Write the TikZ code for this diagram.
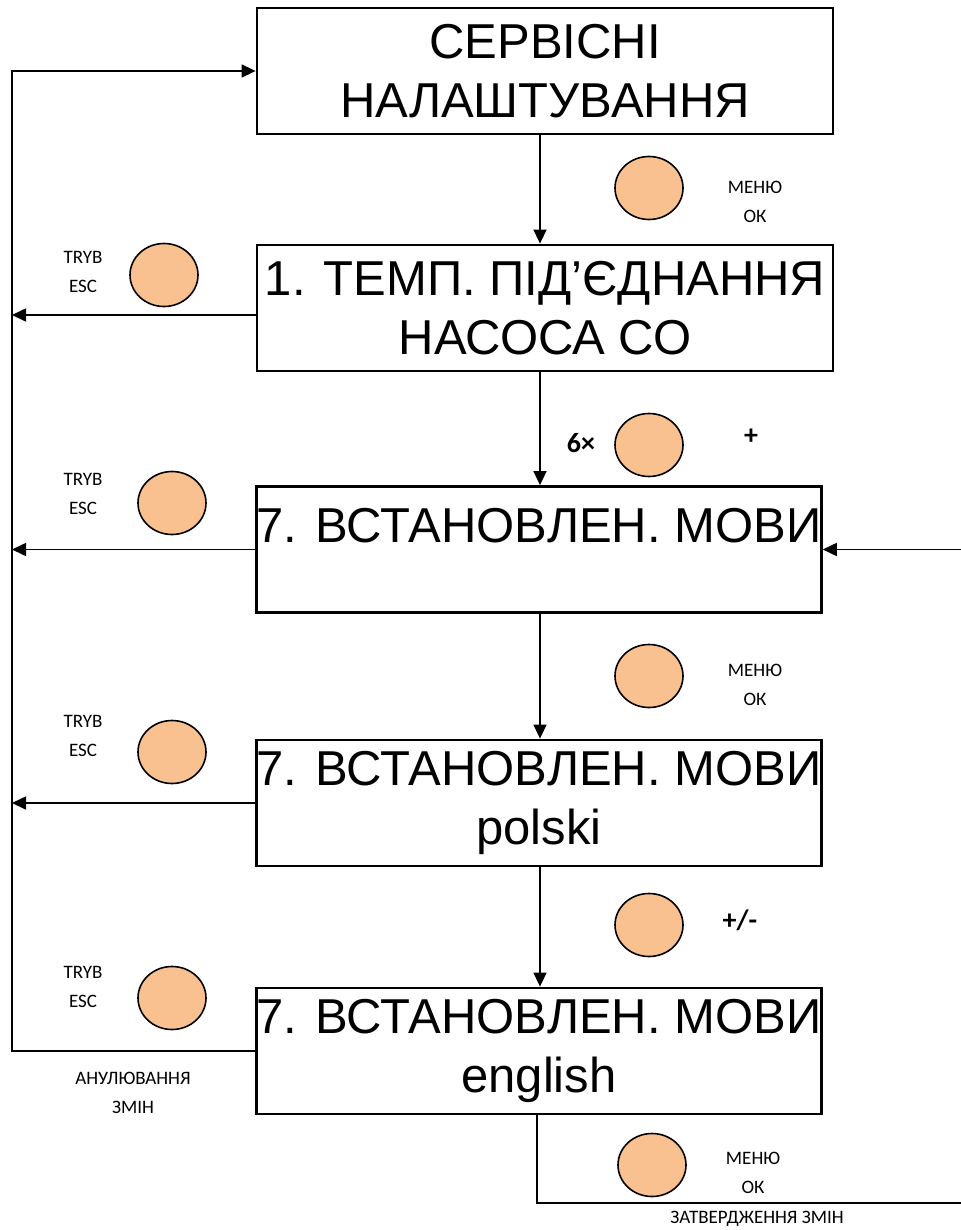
\documentclass[tikz,border=0pt]{standalone}
\usepackage{fontspec}
\setmainfont{Liberation Sans}
\newfontfamily\lblfont{Carlito}
\usetikzlibrary{arrows.meta,shapes.geometric}
\definecolor{btnfill}{HTML}{F9C18F}
\begin{document}
\begin{tikzpicture}[x=1pt,y=-1pt,
  screen/.style={draw,line width=2.8pt,minimum height=126pt,inner sep=0pt,
    align=center,font=\fontsize{49}{59}\selectfont},
  btn/.style={draw,line width=1.6pt,fill=btnfill,ellipse,inner sep=0pt,
    minimum width=68pt,minimum height=63pt},
  lbl/.style={align=center,inner sep=0pt,font=\lblfont\fontsize{19}{29}\selectfont},
  keylbl/.style={inner sep=0pt,font=\lblfont\bfseries\fontsize{28}{30}\selectfont},
  link/.style={line width=1.6pt},
  arr/.style={link,-{Triangle[length=14pt,width=13pt]}}]
\useasboundingbox (0,0) rectangle (960,1230);

% guide lines for the connectors
\coordinate (L) at (12,0);
\coordinate (M) at (540,0);
\coordinate (R) at (963,0);

% menu screens
\node[screen,minimum width=576pt] (b1) at (545,71) {СЕРВІСНІ\\НАЛАШТУВАННЯ};
\node[screen,minimum width=576pt] (b2) at (545,308) {1. ТЕМП. ПІД’ЄДНАННЯ\\НАСОСА СО};
% one-line screen: text sits in the upper half
\node[screen,minimum width=564pt,align=none,text height=40pt,text depth=54pt] (b3) at (539,549.5) {7. ВСТАНОВЛЕН. МОВИ};
\node[screen,minimum width=564pt] (b4) at (539,803) {7. ВСТАНОВЛЕН. МОВИ\\polski};
\node[screen,minimum width=564pt] (b5) at (539,1051) {7. ВСТАНОВЛЕН. МОВИ\\english};

% forward steps
\draw[arr] (b1.south -| M) -- (b2.north -| M);
\draw[arr] (b2.south -| M) -- (b3.north -| M);
\draw[arr] (b3.south -| M) -- (b4.north -| M);
\draw[arr] (b4.south -| M) -- (b5.north -| M);

% escape paths on the left
\coordinate (e2) at ([yshift=-7pt]b2.west);
\draw[arr] (e2) -- (e2 -| L);
\draw[arr] (b3.west) -- (b3.west -| L);
\draw[arr] (b4.west) -- (b4.west -| L);
\draw[arr] (b5.west) -- (b5.west -| L) -- (b1.west -| L) -- (b1.west);

% confirm path on the right
\coordinate (c5) at ([xshift=-2pt]b5.south);
\coordinate (cb) at (537,1203);
\draw[arr] (c5) -- (cb) -- (cb -| R) -- (b3.east -| R) -- (b3.east);

% keys between screens
\node[btn] (k1) at (649,188) {};
\node[lbl] (k1t) at (755,202) {МЕНЮ\\ОК};

\node[btn] (k2) at (649,445) {};
\node[keylbl] (k2n) at (581,443) {6×};
\node[keylbl] (k2t) at (751,437) {+};

\node[btn] (k3) at (649,676) {};
\node[lbl] (k3t) at (755,685) {МЕНЮ\\ОК};

\node[btn] (k4) at (649,925) {};
\node[keylbl] (k4t) at (740,920) {+/-};

\node[btn] (k5) at (652,1165) {};
\node[lbl] (k5t) at (753,1173) {МЕНЮ\\ОК};
\node[lbl] (k5c) at (757,1219) {ЗАТВЕРДЖЕННЯ ЗМІН};

% escape keys
\node[btn] (x2) at (164,275) {};
\node[lbl] (x2t) at (83,272) {TRYB\\ESC};
\node[btn] (x3) at (172,503) {};
\node[lbl] (x3t) at (83,494) {TRYB\\ESC};
\node[btn] (x4) at (172,752) {};
\node[lbl] (x4t) at (83,736) {TRYB\\ESC};
\node[btn] (x5) at (172,998) {};
\node[lbl] (x5t) at (83,987) {TRYB\\ESC};
\node[lbl] (x5c) at (133,1093) {АНУЛЮВАННЯ\\ЗМІН};
\end{tikzpicture}
\end{document}
